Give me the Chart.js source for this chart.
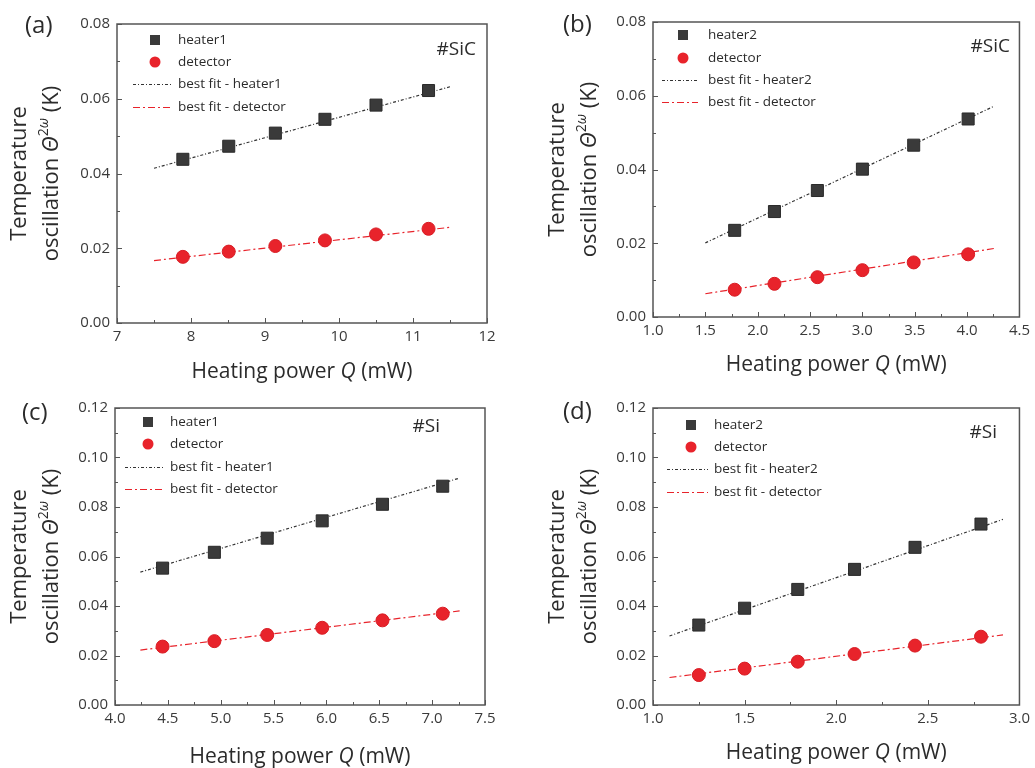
<!DOCTYPE html>
<html>
<head>
<meta charset="utf-8">
<title>Temperature oscillation vs heating power</title>
<script src="https://cdn.jsdelivr.net/npm/chart.js@4.4.1/dist/chart.umd.min.js"></script>
<style>
html, body { margin: 0; padding: 0; background: #fff; }
#wrap { position: relative; width: 1035px; height: 768px; overflow: hidden; }
canvas { position: absolute; }
</style>
</head>
<body>
<div id="wrap">
  <canvas id="chartA" width="517" height="384" style="left:0;top:0"></canvas>
  <canvas id="chartB" width="518" height="384" style="left:517px;top:0"></canvas>
  <canvas id="chartC" width="517" height="384" style="left:0;top:384px"></canvas>
  <canvas id="chartD" width="518" height="384" style="left:517px;top:384px"></canvas>
</div>
<script>
// ---- data ----
// (a) #SiC, heater1
const powerA = [7.89, 8.51, 9.14, 9.81, 10.5, 11.21];
const heaterA = [0.0438, 0.0473, 0.0508, 0.0545, 0.0583, 0.0622];
const detectorA = [0.0177, 0.0191, 0.0206, 0.0221, 0.0237, 0.0252];
const fitPowerA = [7.5, 11.5];
const fitHeaterA = [0.0414, 0.0632];
const fitDetectorA = [0.0167, 0.0256];

// (b) #SiC, heater2
const powerB = [1.78, 2.16, 2.57, 3.0, 3.49, 4.01];
const heaterB = [0.0235, 0.0286, 0.0343, 0.0401, 0.0466, 0.0537];
const detectorB = [0.0074, 0.0090, 0.0108, 0.0127, 0.0148, 0.0170];
const fitPowerB = [1.5, 4.26];
const fitHeaterB = [0.0201, 0.0572];
const fitDetectorB = [0.0063, 0.0186];

// (c) #Si, heater1
const powerC = [4.45, 4.94, 5.44, 5.96, 6.53, 7.10];
const heaterC = [0.0553, 0.0617, 0.0674, 0.0744, 0.0811, 0.0884];
const detectorC = [0.0236, 0.0258, 0.0283, 0.0312, 0.0342, 0.0369];
const fitPowerC = [4.24, 7.26];
const fitHeaterC = [0.0537, 0.0917];
const fitDetectorC = [0.0222, 0.0380];

// (d) #Si, heater2
const powerD = [1.25, 1.50, 1.79, 2.10, 2.43, 2.79];
const heaterD = [0.0323, 0.0391, 0.0467, 0.0548, 0.0637, 0.0731];
const detectorD = [0.0121, 0.0147, 0.0175, 0.0206, 0.0240, 0.0276];
const fitPowerD = [1.09, 2.91];
const fitHeaterD = [0.0279, 0.0750];
const fitDetectorD = [0.0111, 0.0283];

// axis ranges / ticks
const xRangeA = [7, 12], xStepA = 1;
const xRangeB = [1.0, 4.5], xStepB = 0.5;
const xRangeC = [4.0, 7.5], xStepC = 0.5;
const xRangeD = [1.0, 3.0], xStepD = 0.5;
const yRangeSiC = [0, 0.08];
const yRangeSi = [0, 0.12];
const yStep = 0.02;

const FONT = '"Open Sans", "DejaVu Sans", sans-serif';
const TEXT = '#2b2b2b';
const AXIS = '#555';

function pairs(xs, ys) {
    return xs.map((x, i) => ({ x: x, y: ys[i] }));
}

function fontStr(size, style) {
    return (style || '') + ' ' + size + 'px ' + FONT;
}

// draws a row of text pieces, each with its own font and baseline offset
function drawRich(ctx, parts, x, y, align) {
    let total = 0;
    parts.forEach(p => {
        ctx.font = p.font;
        p.w = ctx.measureText(p.t).width;
        total += p.w;
    });
    let cx = align === 'center' ? x - total / 2 : x;
    parts.forEach(p => {
        ctx.font = p.font;
        ctx.fillText(p.t, cx, y + (p.dy || 0));
        cx += p.w;
    });
}

// frame, inward ticks, titles, labels and legend drawn on top of the chart
const decorations = {
    id: 'decorations',
    afterDraw(chart, args, opts) {
        const ctx = chart.ctx;
        const a = chart.chartArea;
        const xs = chart.scales.x, ys = chart.scales.y;
        ctx.save();

        // major + minor ticks, pointing into the plot
        ctx.strokeStyle = AXIS;
        ctx.lineWidth = 1;
        const xt = xs.ticks.map(t => t.value);
        xt.forEach((v, i) => {
            const px = Math.round(xs.getPixelForValue(v)) + 0.5;
            ctx.beginPath(); ctx.moveTo(px, a.bottom); ctx.lineTo(px, a.bottom - 5); ctx.stroke();
            if (i < xt.length - 1) {
                const pm = Math.round(xs.getPixelForValue((v + xt[i + 1]) / 2)) + 0.5;
                ctx.beginPath(); ctx.moveTo(pm, a.bottom); ctx.lineTo(pm, a.bottom - 3); ctx.stroke();
            }
        });
        const yt = ys.ticks.map(t => t.value);
        yt.forEach((v, i) => {
            const py = Math.round(ys.getPixelForValue(v)) + 0.5;
            ctx.beginPath(); ctx.moveTo(a.left, py); ctx.lineTo(a.left + 5, py); ctx.stroke();
            if (i < yt.length - 1) {
                const pm = Math.round(ys.getPixelForValue((v + yt[i + 1]) / 2)) + 0.5;
                ctx.beginPath(); ctx.moveTo(a.left, pm); ctx.lineTo(a.left + 3, pm); ctx.stroke();
            }
        });

        // plot frame
        ctx.lineWidth = 1.5;
        ctx.strokeRect(a.left, a.top, a.right - a.left, a.bottom - a.top);

        ctx.fillStyle = TEXT;
        ctx.textBaseline = 'middle';

        // panel letter
        ctx.textAlign = 'left';
        ctx.font = fontStr(24);
        ctx.fillText(opts.letter, opts.letterX, opts.letterY);

        // sample tag
        ctx.textAlign = 'right';
        ctx.font = fontStr(19);
        ctx.fillText(opts.tag, opts.tagX, opts.tagY);

        // x title
        ctx.textAlign = 'left';
        const xc = (a.left + a.right) / 2;
        drawRich(ctx, [
            { t: 'Heating power ', font: fontStr(21) },
            { t: 'Q', font: fontStr(21, 'italic') },
            { t: ' (mW)', font: fontStr(21) }
        ], xc, opts.xTitleY, 'center');

        // y title, two lines, rotated
        const yc = (a.top + a.bottom) / 2;
        const mid = (opts.yTitleX1 + opts.yTitleX2) / 2;
        const half = (opts.yTitleX2 - opts.yTitleX1) / 2;
        ctx.translate(mid, yc);
        ctx.rotate(-Math.PI / 2);
        drawRich(ctx, [{ t: 'Temperature', font: fontStr(22) }], 0, -half, 'center');
        drawRich(ctx, [
            { t: 'oscillation ', font: fontStr(22) },
            { t: 'Θ', font: fontStr(22, 'italic') },
            { t: '2', font: fontStr(14), dy: -8 },
            { t: 'ω', font: fontStr(14, 'italic'), dy: -8 },
            { t: ' (K)', font: fontStr(22) }
        ], 0, half, 'center');
        ctx.setTransform(1, 0, 0, 1, 0, 0);

        // legend
        const rows = opts.legendRows;
        const ds = chart.data.datasets;
        ctx.textAlign = 'left';
        ctx.font = fontStr(13.5);
        for (let i = 0; i < 4; i++) {
            const d = ds[i];
            const y = rows[i];
            if (d.showLine) {
                ctx.strokeStyle = d.borderColor;
                ctx.lineWidth = d.borderWidth;
                ctx.setLineDash(d.borderDash || []);
                ctx.beginPath();
                ctx.moveTo(opts.legendLineX1, y + 0.5);
                ctx.lineTo(opts.legendLineX2, y + 0.5);
                ctx.stroke();
                ctx.setLineDash([]);
            } else {
                ctx.fillStyle = d.backgroundColor;
                ctx.beginPath();
                if (d.pointStyle === 'rect') {
                    ctx.rect(opts.legendMarkX - 5, y - 5, 10, 10);
                } else {
                    ctx.arc(opts.legendMarkX, y, 5.5, 0, Math.PI * 2);
                }
                ctx.fill();
            }
            ctx.fillStyle = TEXT;
            ctx.fillText(d.label, opts.legendTextX, y);
        }
        ctx.restore();
    }
};

function makePanel(id, p) {
    const tickFont = { family: FONT, size: 15 };
    return new Chart(document.getElementById(id), {
        type: 'scatter',
        data: {
            datasets: [
                {
                    label: p.heaterLabel,
                    data: pairs(p.power, p.heater),
                    pointStyle: 'rect',
                    pointRadius: 8.5,
                    backgroundColor: '#3a3a3a',
                    borderColor: '#2a2a2a',
                    borderWidth: 1,
                    order: 0
                },
                {
                    label: 'detector',
                    data: pairs(p.power, p.detector),
                    pointStyle: 'circle',
                    pointRadius: 6.5,
                    backgroundColor: '#e8232b',
                    borderColor: '#d81c24',
                    borderWidth: 1,
                    order: 0
                },
                {
                    label: 'best fit - ' + p.heaterLabel,
                    data: pairs(p.fitPower, p.fitHeater),
                    showLine: true,
                    pointRadius: 0,
                    borderColor: '#333',
                    borderWidth: 1.2,
                    borderDash: [3, 2, 1, 2],
                    order: 1
                },
                {
                    label: 'best fit - detector',
                    data: pairs(p.fitPower, p.fitDetector),
                    showLine: true,
                    pointRadius: 0,
                    borderColor: '#e8232b',
                    borderWidth: 1.2,
                    borderDash: [7, 3, 2, 3],
                    order: 1
                }
            ]
        },
        options: {
            responsive: false,
            animation: false,
            layout: { padding: { left: 0, top: p.padTop, right: p.padRight, bottom: 0 } },
            scales: {
                x: {
                    type: 'linear',
                    min: p.xRange[0], max: p.xRange[1],
                    border: { display: false },
                    grid: { display: false, drawTicks: false },
                    ticks: {
                        stepSize: p.xStep,
                        padding: 5,
                        color: '#3a3a3a',
                        font: tickFont,
                        maxRotation: 0,
                        autoSkip: false,
                        callback: v => p.xStep >= 1 ? String(Math.round(v)) : v.toFixed(1)
                    },
                    afterFit: s => { s.height = p.xAxisH; }
                },
                y: {
                    type: 'linear',
                    min: p.yRange[0], max: p.yRange[1],
                    border: { display: false },
                    grid: { display: false, drawTicks: false },
                    ticks: {
                        stepSize: yStep,
                        padding: 7,
                        color: '#3a3a3a',
                        font: tickFont,
                        autoSkip: false,
                        callback: v => v.toFixed(2)
                    },
                    afterFit: s => { s.width = p.yAxisW; }
                }
            },
            plugins: {
                legend: { display: false },
                tooltip: { enabled: false },
                decorations: p.deco
            }
        },
        plugins: [decorations]
    });
}

document.addEventListener('DOMContentLoaded', function() {
    makePanel('chartA', {
        heaterLabel: 'heater1',
        power: powerA, heater: heaterA, detector: detectorA,
        fitPower: fitPowerA, fitHeater: fitHeaterA, fitDetector: fitDetectorA,
        xRange: xRangeA, xStep: xStepA, yRange: yRangeSiC,
        padTop: 24, padRight: 30, yAxisW: 117, xAxisH: 61,
        deco: {
            letter: '(a)', letterX: 25, letterY: 26,
            tag: '#SiC', tagX: 476, tagY: 50,
            xTitleY: 372, yTitleX1: 20, yTitleX2: 52,
            legendRows: [40, 62, 84, 107], legendMarkX: 155, legendTextX: 178,
            legendLineX1: 133, legendLineX2: 172
        }
    });
    makePanel('chartB', {
        heaterLabel: 'heater2',
        power: powerB, heater: heaterB, detector: detectorB,
        fitPower: fitPowerB, fitHeater: fitHeaterB, fitDetector: fitDetectorB,
        xRange: xRangeB, xStep: xStepB, yRange: yRangeSiC,
        padTop: 22, padRight: 13, yAxisW: 136, xAxisH: 67,
        deco: {
            letter: '(b)', letterX: 46, letterY: 25,
            tag: '#SiC', tagX: 493, tagY: 47,
            xTitleY: 365, yTitleX1: 41, yTitleX2: 73,
            legendRows: [35, 58, 80, 102], legendMarkX: 166, legendTextX: 191,
            legendLineX1: 145, legendLineX2: 181
        }
    });
    makePanel('chartC', {
        heaterLabel: 'heater1',
        power: powerC, heater: heaterC, detector: detectorC,
        fitPower: fitPowerC, fitHeater: fitHeaterC, fitDetector: fitDetectorC,
        xRange: xRangeC, xStep: xStepC, yRange: yRangeSi,
        padTop: 24, padRight: 32, yAxisW: 115, xAxisH: 63,
        deco: {
            letter: '(c)', letterX: 22, letterY: 29,
            tag: '#Si', tagX: 440, tagY: 43,
            xTitleY: 373, yTitleX1: 20, yTitleX2: 52,
            legendRows: [38, 60, 83, 105], legendMarkX: 148, legendTextX: 170,
            legendLineX1: 125, legendLineX2: 163
        }
    });
    makePanel('chartD', {
        heaterLabel: 'heater2',
        power: powerD, heater: heaterD, detector: detectorD,
        fitPower: fitPowerD, fitHeater: fitHeaterD, fitDetector: fitDetectorD,
        xRange: xRangeD, xStep: xStepD, yRange: yRangeSi,
        padTop: 24, padRight: 13, yAxisW: 136, xAxisH: 63,
        deco: {
            letter: '(d)', letterX: 46, letterY: 28,
            tag: '#Si', tagX: 480, tagY: 49,
            xTitleY: 369, yTitleX1: 41, yTitleX2: 73,
            legendRows: [41, 63, 85, 108], legendMarkX: 174, legendTextX: 197,
            legendLineX1: 150, legendLineX2: 191
        }
    });
});
</script>
</body>
</html>
